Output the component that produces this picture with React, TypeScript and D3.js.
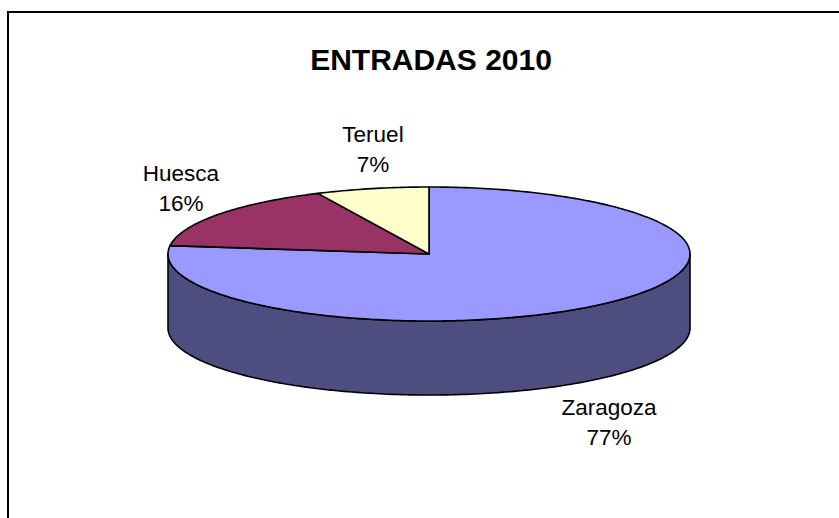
import React from "react";
import * as d3 from "d3";

const categories = ["Zaragoza", "Huesca", "Teruel"];
const values = [77, 16, 7];
const topColors = ["#9999FF", "#993366", "#FFFFCC"];
const sideColors = ["#4D4D80", "#4D1A33", "#808066"];
const title = "ENTRADAS 2010";

const W = 839;
const H = 518;
const cx = 429;
const cy = 254;
const rx = 261;
const ry = 67;
const depth = 74;

const labelPos: Record<string, [number, number]> = {
  Zaragoza: [609, 415],
  Huesca: [181, 181],
  Teruel: [373, 142],
};

function pt(a: number, dy = 0): [number, number] {
  return [cx + rx * Math.sin(a), cy - ry * Math.cos(a) + dy];
}

function arcPoints(a0: number, a1: number, dy = 0): [number, number][] {
  const n = Math.max(2, Math.ceil(((a1 - a0) / (2 * Math.PI)) * 360));
  const pts: [number, number][] = [];
  for (let i = 0; i <= n; i++) pts.push(pt(a0 + ((a1 - a0) * i) / n, dy));
  return pts;
}

export default function App() {
  const pie = d3
    .pie<number>()
    .sort(null)
    .startAngle(0)
    .endAngle(2 * Math.PI)(values);
  const total = d3.sum(values);
  const line = d3.line();

  const sides: JSX.Element[] = [];
  const tops: JSX.Element[] = [];
  pie.forEach((s, i) => {
    const a0 = Math.max(s.startAngle, Math.PI / 2);
    const a1 = Math.min(s.endAngle, (3 * Math.PI) / 2);
    if (a1 > a0) {
      const topArc = arcPoints(a0, a1);
      const botArc = arcPoints(a0, a1, depth).reverse();
      sides.push(
        <path
          key={"s" + i}
          d={line([...topArc, ...botArc])! + "Z"}
          fill={sideColors[i]}
          stroke="#000"
          strokeWidth={1.6}
          strokeLinejoin="round"
        />
      );
    }
    const pts: [number, number][] = [[cx, cy], ...arcPoints(s.startAngle, s.endAngle)];
    tops.push(
      <path
        key={"t" + i}
        d={line(pts)! + "Z"}
        fill={topColors[i]}
        stroke="#000"
        strokeWidth={1.6}
        strokeLinejoin="round"
      />
    );
  });

  return (
    <svg
      width={W}
      height={H}
      style={{ position: "absolute", left: 0, top: 0, background: "#fff" }}
    >
      <rect x={0} y={0} width={W} height={H} fill="#fff" />
      <rect x={8} y={12} width={W + 50} height={H + 50} fill="none" stroke="#000" strokeWidth={2} />
      <text
        x={431}
        y={70}
        textAnchor="middle"
        fontFamily="Liberation Sans, Arial, sans-serif"
        fontWeight="bold"
        fontSize={30}
      >
        {title}
      </text>
      {sides}
      {tops}
      {categories.map((c, i) => {
        const [x, y] = labelPos[c];
        const pct = Math.round((values[i] / total) * 100) + "%";
        return (
          <text
            key={c}
            x={x}
            y={y}
            textAnchor="middle"
            fontFamily="Liberation Sans, Arial, sans-serif"
            fontSize={22.5}
            fill="#000"
          >
            <tspan x={x} y={y}>{c}</tspan>
            <tspan x={x} y={y + 30}>{pct}</tspan>
          </text>
        );
      })}
    </svg>
  );
}
